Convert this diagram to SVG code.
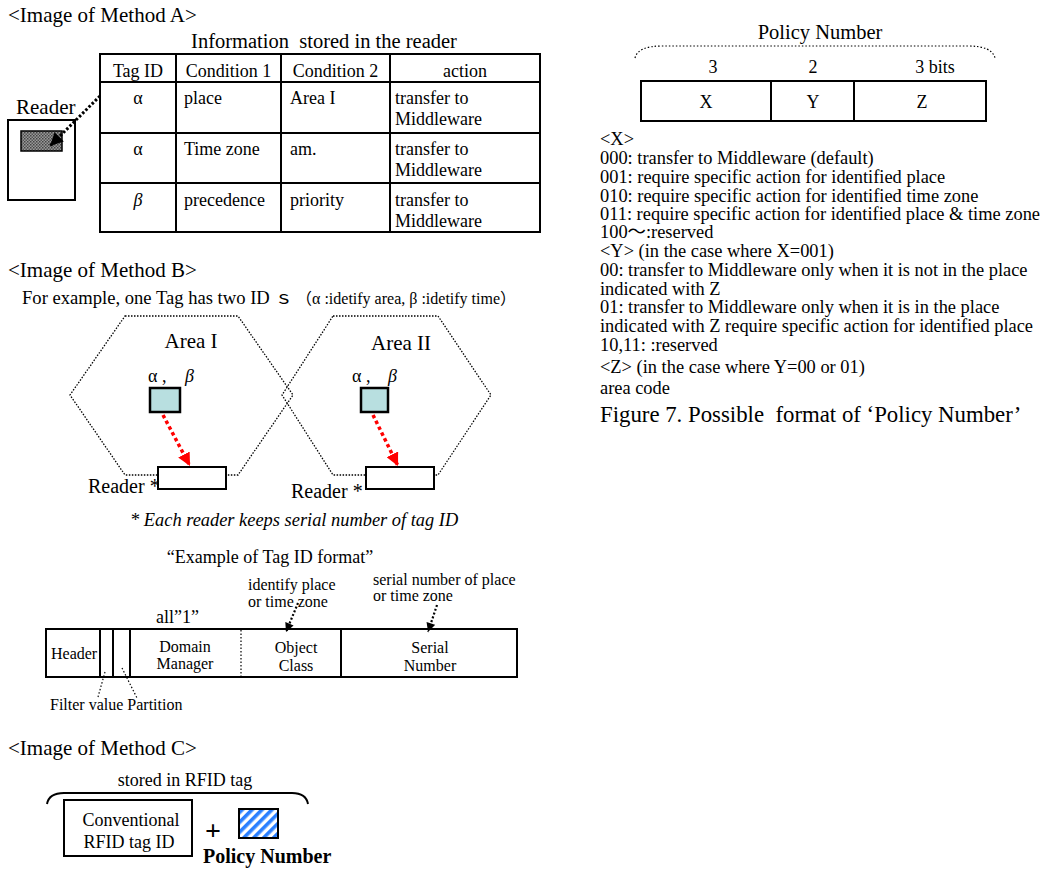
<svg xmlns="http://www.w3.org/2000/svg" width="1043" height="869" viewBox="0 0 1043 869">
<style>
text{font-family:"Liberation Serif","Times New Roman","Noto Sans CJK JP",serif;fill:#000;white-space:pre}
.h{font-size:21px}
.t{font-size:18px}
.r{font-size:18.4px}
.s{font-size:16px}
.m{text-anchor:middle}
.box{fill:#fff;stroke:#000;stroke-width:2}
.ln{stroke:#000;stroke-width:2;fill:none}
.hex{fill:none;stroke:#000;stroke-width:1.3;stroke-dasharray:1.5 1.5}
.dotk{fill:none;stroke:#000;stroke-width:3;stroke-dasharray:2.5 2}
.dotr{fill:none;stroke:#f00;stroke-width:3.5;stroke-dasharray:3.5 3}
.dots{fill:none;stroke:#000;stroke-width:1.2;stroke-dasharray:1.5 2}
.dotm{fill:none;stroke:#000;stroke-width:2.2;stroke-dasharray:2 2}
.tag{fill:#b8dfe0;stroke:#000;stroke-width:2.5}
</style>
<defs>
<marker id="arrK" viewBox="0 0 10 10" refX="10" refY="5" markerUnits="userSpaceOnUse" markerWidth="15" markerHeight="13" orient="auto"><path d="M0,0 L10,5 L0,10 z" fill="#000"/></marker>
<marker id="arrR" viewBox="0 0 10 10" refX="10" refY="5" markerUnits="userSpaceOnUse" markerWidth="13" markerHeight="13" orient="auto"><path d="M0,0 L10,5 L0,10 z" fill="#f00"/></marker>
<marker id="arrS" viewBox="0 0 10 10" refX="10" refY="5" markerUnits="userSpaceOnUse" markerWidth="10" markerHeight="9" orient="auto"><path d="M0,0 L10,5 L0,10 z" fill="#000"/></marker>
<pattern id="chk" patternUnits="userSpaceOnUse" width="3" height="3"><rect width="3" height="3" fill="#9a9a9a"/><rect width="1.5" height="1.5" fill="#444"/><rect x="1.5" y="1.5" width="1.5" height="1.5" fill="#555"/></pattern>
<pattern id="hatch" patternUnits="userSpaceOnUse" width="7" height="7" patternTransform="rotate(45)"><rect width="7" height="7" fill="#fff"/><rect width="3.6" height="7" fill="#2a7fff"/></pattern>
</defs>

<!-- Method A -->
<g id="titleA"><text class="h" x="8" y="22">&lt;Image of Method A&gt;</text></g>
<g id="tableA">
<text class="m" font-size="20.5" x="324" y="48">Information  stored in the reader</text>
<rect class="box" x="100" y="54" width="440" height="178" stroke-width="2.5"/>
<path class="ln" d="M176,54V232M281,54V232M390,54V232M100,82H540M100,133H540M100,183H540"/>
<text class="t m" x="138" y="77">Tag ID</text>
<text class="t m" x="228.5" y="77">Condition 1</text>
<text class="t m" x="335.5" y="77">Condition 2</text>
<text class="t m" x="465" y="77">action</text>
<text class="t m" x="138" y="104">α</text>
<text class="t" x="184" y="104">place</text>
<text class="t" x="290" y="104">Area I</text>
<text class="t" x="395" y="104">transfer to</text>
<text class="t" x="395" y="125">Middleware</text>
<text class="t m" x="138" y="155">α</text>
<text class="t" x="184" y="155">Time zone</text>
<text class="t" x="290" y="155">am.</text>
<text class="t" x="395" y="155">transfer to</text>
<text class="t" x="395" y="176">Middleware</text>
<text class="t m" x="138" y="206" font-style="italic">β</text>
<text class="t" x="184" y="206">precedence</text>
<text class="t" x="290" y="206">priority</text>
<text class="t" x="395" y="206">transfer to</text>
<text class="t" x="395" y="227">Middleware</text>
</g>
<g id="readerA">
<text class="h" x="16" y="114">Reader</text>
<rect class="box" x="8" y="120" width="67" height="80"/>
<rect x="21" y="131" width="41" height="20" fill="url(#chk)" stroke="#000" stroke-width="1.5"/>
</g>

<!-- Method B -->
<g id="titleB"><text class="h" x="8" y="277">&lt;Image of Method B&gt;</text>
<text x="22" y="304" font-size="18.6">For example, one Tag has two ID ｓ<tspan font-size="16" dx="3">（α :idetify area, β :idetify time）</tspan></text></g>
<g id="area1">
<polygon class="hex" points="125,316 238,316 293,395 238,475 125,475 70,395"/>
<text class="h m" x="191" y="348">Area I</text>
</g>
<g id="area2">
<polygon class="hex" points="333,316 438,316 491,395 438,475 333,475 282,395"/>
<text class="h m" x="401" y="350">Area II</text>
</g>
<g id="tag1">
<text class="t" x="148" y="382">α ,</text><text class="t" x="185" y="382" font-style="italic">β</text>
<rect class="tag" x="150" y="388" width="30" height="24"/>
</g>
<g id="tag2">
<text class="t" x="352" y="382">α ,</text><text class="t" x="388" y="382" font-style="italic">β</text>
<rect class="tag" x="361" y="388" width="27" height="24"/>
</g>
<g id="reader1">
<rect class="box" x="158" y="467" width="68" height="22"/>
<text x="88" y="493" font-size="20">Reader *</text>
</g>
<g id="reader2">
<rect class="box" x="366" y="467" width="68" height="22"/>
<text x="291" y="498" font-size="20">Reader *</text>
</g>
<g id="noteB"><text x="130" y="526" font-size="18.4" font-style="italic">* Each reader keeps serial number of tag ID</text></g>

<!-- Tag ID format -->
<g id="tagFormat">
<text class="t m" x="270" y="563">“Example of Tag ID format”</text>
<text class="s" x="248" y="590">identify place</text>
<text class="s" x="248" y="607">or time zone</text>
<text class="s" x="373" y="585">serial number of place</text>
<text class="s" x="373" y="601">or time zone</text>
<text class="t" x="156" y="623">all”1”</text>
<rect class="box" x="46" y="629" width="471" height="48"/>
<path class="ln" d="M100,629V677M113,629V677M130,629V677M341,629V677"/>
<path class="dots" d="M241,630V677"/>
<text class="s" x="51" y="659">Header</text>
<text class="s m" x="185" y="652">Domain</text>
<text class="s m" x="185" y="669">Manager</text>
<text class="s m" x="296" y="653">Object</text>
<text class="s m" x="296" y="671">Class</text>
<text class="s m" x="430" y="653">Serial</text>
<text class="s m" x="430" y="671">Number</text>
<text class="s" x="50" y="710">Filter value Partition</text>
</g>

<!-- Method C -->
<g id="titleC"><text class="h" x="8" y="755">&lt;Image of Method C&gt;</text></g>
<g id="storedC">
<text class="t m" x="185" y="786">stored in RFID tag</text>
<path class="ln" d="M47,804 Q49,793 64,793 L292,793 Q306,793 308,804"/>
</g>
<g id="convID">
<rect class="box" x="64" y="800" width="128" height="56"/>
<text class="t m" x="131" y="826">Conventional</text>
<text class="t m" x="129" y="848">RFID tag ID</text>
</g>
<g id="plus"><text x="213" y="840" font-size="28" font-weight="bold" text-anchor="middle">+</text></g>
<g id="policyC">
<rect x="239" y="809" width="39" height="29" fill="url(#hatch)" stroke="#000" stroke-width="2"/>
<text x="203" y="863" font-size="20" font-weight="bold">Policy Number</text>
</g>

<!-- Right side -->
<g id="policyFormat">
<text class="m" font-size="20.5" x="820" y="39">Policy Number</text>
<path class="dots" stroke-width="1" d="M635,58 Q638,46 662,46 L968,46 Q992,46 995,58"/>
<text class="t m" x="713" y="73">3</text>
<text class="t m" x="813" y="73">2</text>
<text class="t m" x="935" y="73">3 bits</text>
<rect class="box" x="641" y="81" width="345" height="40"/>
<path class="ln" d="M771,81V121M854,81V121"/>
<text class="t m" x="706" y="108">X</text>
<text class="t m" x="813" y="108">Y</text>
<text class="t m" x="922" y="108">Z</text>
</g>
<g id="policyText">
<text class="r" x="600" y="145">&lt;X&gt;</text>
<text class="r" x="600" y="164">000: transfer to Middleware (default)</text>
<text class="r" x="600" y="183">001: require specific action for identified place</text>
<text class="r" x="600" y="202">010: require specific action for identified time zone</text>
<text class="r" x="600" y="220">011: require specific action for identified place &amp; time zone</text>
<text class="r" x="600" y="238">100～:reserved</text>
<text class="r" x="600" y="257">&lt;Y&gt; (in the case where X=001)</text>
<text class="r" x="600" y="276">00: transfer to Middleware only when it is not in the place</text>
<text class="r" x="600" y="295">indicated with Z</text>
<text class="r" x="600" y="313">01: transfer to Middleware only when it is in the place</text>
<text class="r" x="600" y="332">indicated with Z require specific action for identified place</text>
<text class="r" x="600" y="351">10,11: :reserved</text>
<text class="r" x="600" y="373">&lt;Z&gt; (in the case where Y=00 or 01)</text>
<text class="r" x="600" y="394">area code</text>
<text x="600" y="422" font-size="22.8">Figure 7. Possible  format of ‘Policy Number’</text>
</g>

<!-- connectors -->
<g id="connectors">
<path class="dotk" d="M100,96 L50,146" marker-end="url(#arrK)"/>
<path class="dotr" d="M163,415 L190,466" marker-end="url(#arrR)"/>
<path class="dotr" d="M373,415 L398,466" marker-end="url(#arrR)"/>
<path class="dotm" d="M298,603 L286,632" marker-end="url(#arrS)"/>
<path class="dotm" d="M437,605 L428,632" marker-end="url(#arrS)"/>
<path class="dots" d="M105,672 L98,697"/>
<path class="dots" d="M122,668 L137,698"/>
</g>
</svg>
